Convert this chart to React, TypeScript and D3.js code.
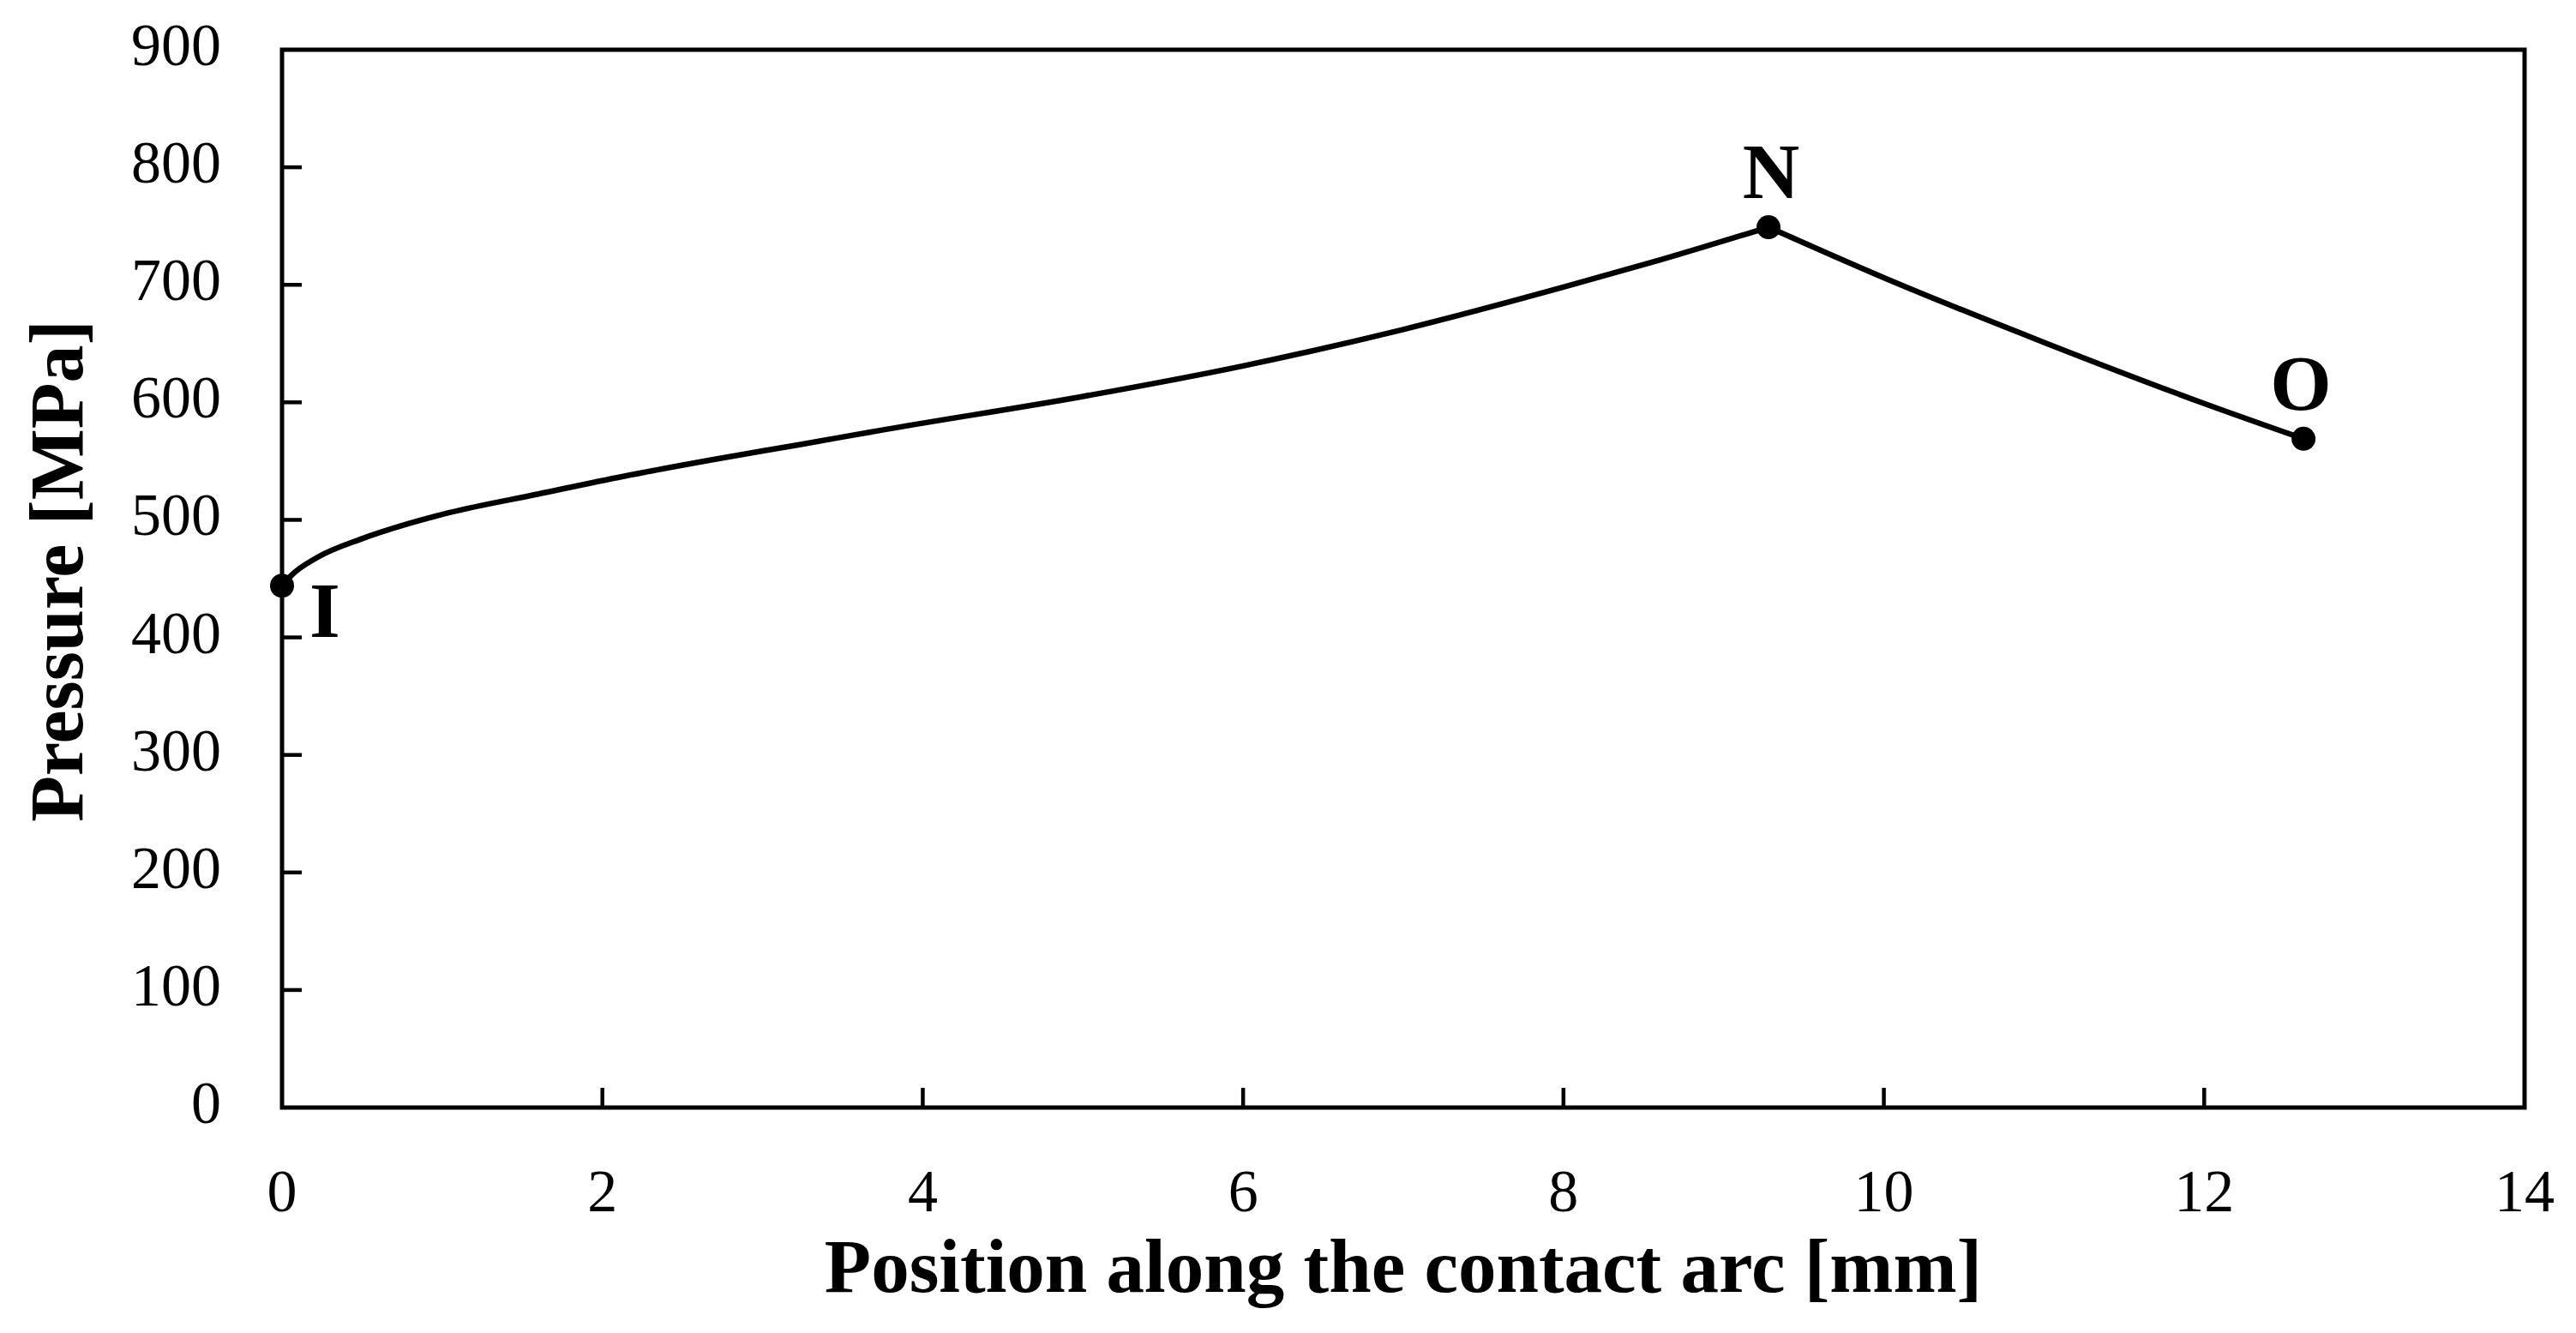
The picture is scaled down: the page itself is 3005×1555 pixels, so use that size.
import React from "react";
import * as d3 from "d3";

const W = 3005;
const H = 1555;

// Curve from I (inlet) to N (neutral point)
const rollInX = [0, 0.06, 0.22, 0.5, 0.77, 1.04, 1.6, 2.13, 2.68, 3.23, 3.77, 5.0, 6.0, 7.0, 8.0, 8.6, 9.28];
const rollInP = [444, 453, 468, 484, 496, 506, 522, 537, 551, 564, 577, 605, 631, 662, 698, 721, 749];
// Curve from N to O (outlet)
const rollOutX = [9.28, 10.0, 11.0, 12.0, 12.62];
const rollOutP = [749, 706, 651, 599, 569];

const markerNames = ["I", "N", "O"];
const markerX = [0, 9.28, 12.62];
const markerP = [444, 749, 569];

const xTicks = [0, 2, 4, 6, 8, 10, 12, 14];
const yTicks = [0, 100, 200, 300, 400, 500, 600, 700, 800, 900];

const xTitle = "Position along the contact arc [mm]";
const yTitle = "Pressure [MPa]";

const M = { left: 329, right: 2945, top: 58, bottom: 1292 };

export default function App() {
  const x = d3.scaleLinear().domain([0, 14]).range([M.left, M.right]);
  const y = d3.scaleLinear().domain([0, 900]).range([M.bottom, M.top]);

  const line = d3
    .line<[number, number]>()
    .x((d) => x(d[0]))
    .y((d) => y(d[1]))
    .curve(d3.curveMonotoneX);

  const seg1 = rollInX.map((v, i) => [v, rollInP[i]] as [number, number]);
  const seg2 = rollOutX.map((v, i) => [v, rollOutP[i]] as [number, number]);

  const serif = "'Liberation Serif', 'Times New Roman', serif";
  const tickLen = 23;

  const labelOffset: Record<string, [number, number, string]> = {
    I: [50, 60, "middle"],
    N: [3, -34, "middle"],
    O: [-3, -34, "middle"],
  };

  return (
    <svg
      width={W}
      height={H}
      style={{ position: "absolute", left: 0, top: 0, background: "#fff" }}
    >
      <rect x={0} y={0} width={W} height={H} fill="#fff" />
      {yTicks.map((t) => (
        <g key={"y" + t}>
          {t > 0 && t < 900 && (
            <line x1={M.left} x2={M.left + tickLen} y1={y(t)} y2={y(t)} stroke="#000" strokeWidth={4.5} />
          )}
          <text
            x={M.left - 71}
            y={y(t) + 18}
            textAnchor="end"
            fontFamily={serif}
            fontSize={70}
            fill="#000"
          >
            {t}
          </text>
        </g>
      ))}
      {xTicks.map((t) => (
        <g key={"x" + t}>
          {t > 0 && t < 14 && (
            <line x1={x(t)} x2={x(t)} y1={M.bottom} y2={M.bottom - tickLen} stroke="#000" strokeWidth={4.5} />
          )}
          <text
            x={x(t)}
            y={M.bottom + 121}
            textAnchor="middle"
            fontFamily={serif}
            fontSize={70}
            fill="#000"
          >
            {t}
          </text>
        </g>
      ))}
      <rect
        x={M.left}
        y={M.top}
        width={M.right - M.left}
        height={M.bottom - M.top}
        fill="none"
        stroke="#000"
        strokeWidth={5}
      />
      <path d={line(seg1) || ""} fill="none" stroke="#000" strokeWidth={6.5} />
      <path d={line(seg2) || ""} fill="none" stroke="#000" strokeWidth={6.5} />
      {markerNames.map((n, i) => {
        const [dx, dy, anchor] = labelOffset[n];
        return (
          <g key={n}>
            <circle cx={x(markerX[i])} cy={y(markerP[i])} r={14} fill="#000" />
            <text
              x={x(markerX[i]) + dx}
              y={y(markerP[i]) + dy}
              textAnchor={anchor}
              fontFamily={serif}
              fontWeight="bold"
              fontSize={92}
              fill="#000"
            >
              {n}
            </text>
          </g>
        );
      })}
      <text
        x={(M.left + M.right) / 2}
        y={1507}
        textAnchor="middle"
        fontFamily={serif}
        fontWeight="bold"
        fontSize={89}
        fill="#000"
      >
        {xTitle}
      </text>
      <text
        transform={`translate(96, 666) rotate(-90)`}
        textAnchor="middle"
        fontFamily={serif}
        fontWeight="bold"
        fontSize={88}
        fill="#000"
      >
        {yTitle}
      </text>
    </svg>
  );
}
